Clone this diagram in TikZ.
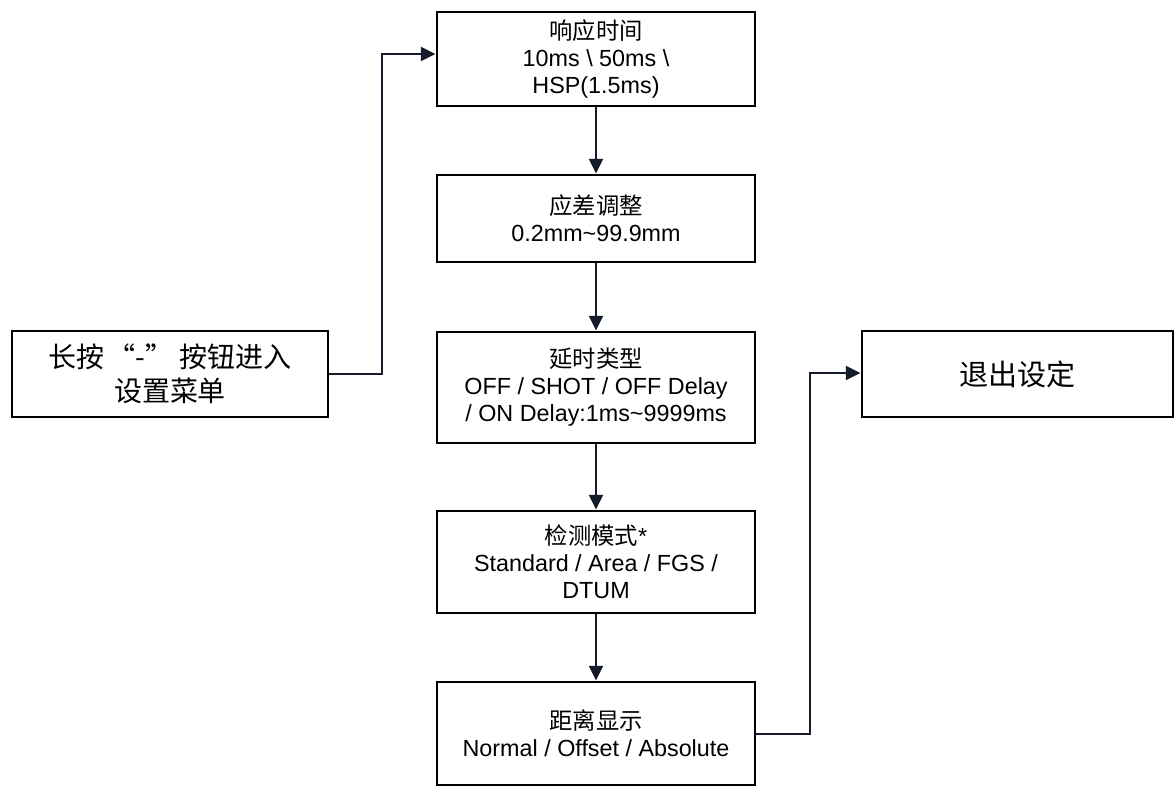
\documentclass[tikz,border=0pt]{standalone}
\usepackage{fontspec}
\setmainfont{Liberation Sans}
\newfontfamily\cjk{Noto Sans CJK SC}
\usetikzlibrary{arrows.meta}
\definecolor{linecol}{HTML}{151B2D}
\begin{document}
\begin{tikzpicture}[x=0.75pt,y=-0.75pt,
  box/.style={draw=black,line width=2.2pt,fill=white,align=center,inner sep=0pt,
    minimum width=238.5pt,font=\fontsize{17.5}{20.25}\selectfont},
  bigbox/.style={draw=black,line width=2.2pt,fill=white,align=center,inner sep=0pt,
    font=\cjk\fontsize{21}{25.5}\selectfont},
  arr/.style={draw=linecol,line width=1.5pt,-{Triangle[length=11pt,width=10.5pt]}}]
\useasboundingbox (0,0) rectangle (1175,787);
\node[box,minimum height=70.5pt] (B1) at (596,59) {{\cjk 响应时间}\\10ms \textbackslash{} 50ms \textbackslash\\HSP(1.5ms)};
\node[box,minimum height=65.25pt] (B2) at (596,218.5) {{\cjk 应差调整}\\0.2mm\char`\~99.9mm};
\node[box,minimum height=83.25pt] (B3) at (596,387.5) {{\cjk 延时类型}\\OFF / SHOT / OFF Delay\\/ ON Delay:1ms\char`\~9999ms};
\node[box,minimum height=76.5pt] (B4) at (596,562) {{\cjk 检测模式}*\\Standard / Area / FGS /\\DTUM};
\node[box,minimum height=77.25pt] (B5) at (596,733.5) {{\cjk 距离显示}\\Normal / Offset / Absolute};
\node[bigbox,minimum width=237pt,minimum height=64.5pt] (L) at (170,374) {长按\hspace{0.12em}“-”\hspace{0.22em}按钮进入\\设置菜单};
\node[bigbox,minimum width=233.25pt,minimum height=64.5pt] (E) at (1017.5,374) {\fontsize{21.8}{25.5}\selectfont 退出设定};
\coordinate (j1) at (382,54);
\coordinate (j2) at (810,373);
\draw[arr] (L.east) -| (j1) -- (j1 -| B1.west);
\draw[arr] (B5.east) -| (j2) -- (j2 -| E.west);
\draw[arr] (B1.south) -- (B2.north);
\draw[arr] (B2.south) -- (B3.north);
\draw[arr] (B3.south) -- (B4.north);
\draw[arr] (B4.south) -- (B5.north);
\end{tikzpicture}
\end{document}
